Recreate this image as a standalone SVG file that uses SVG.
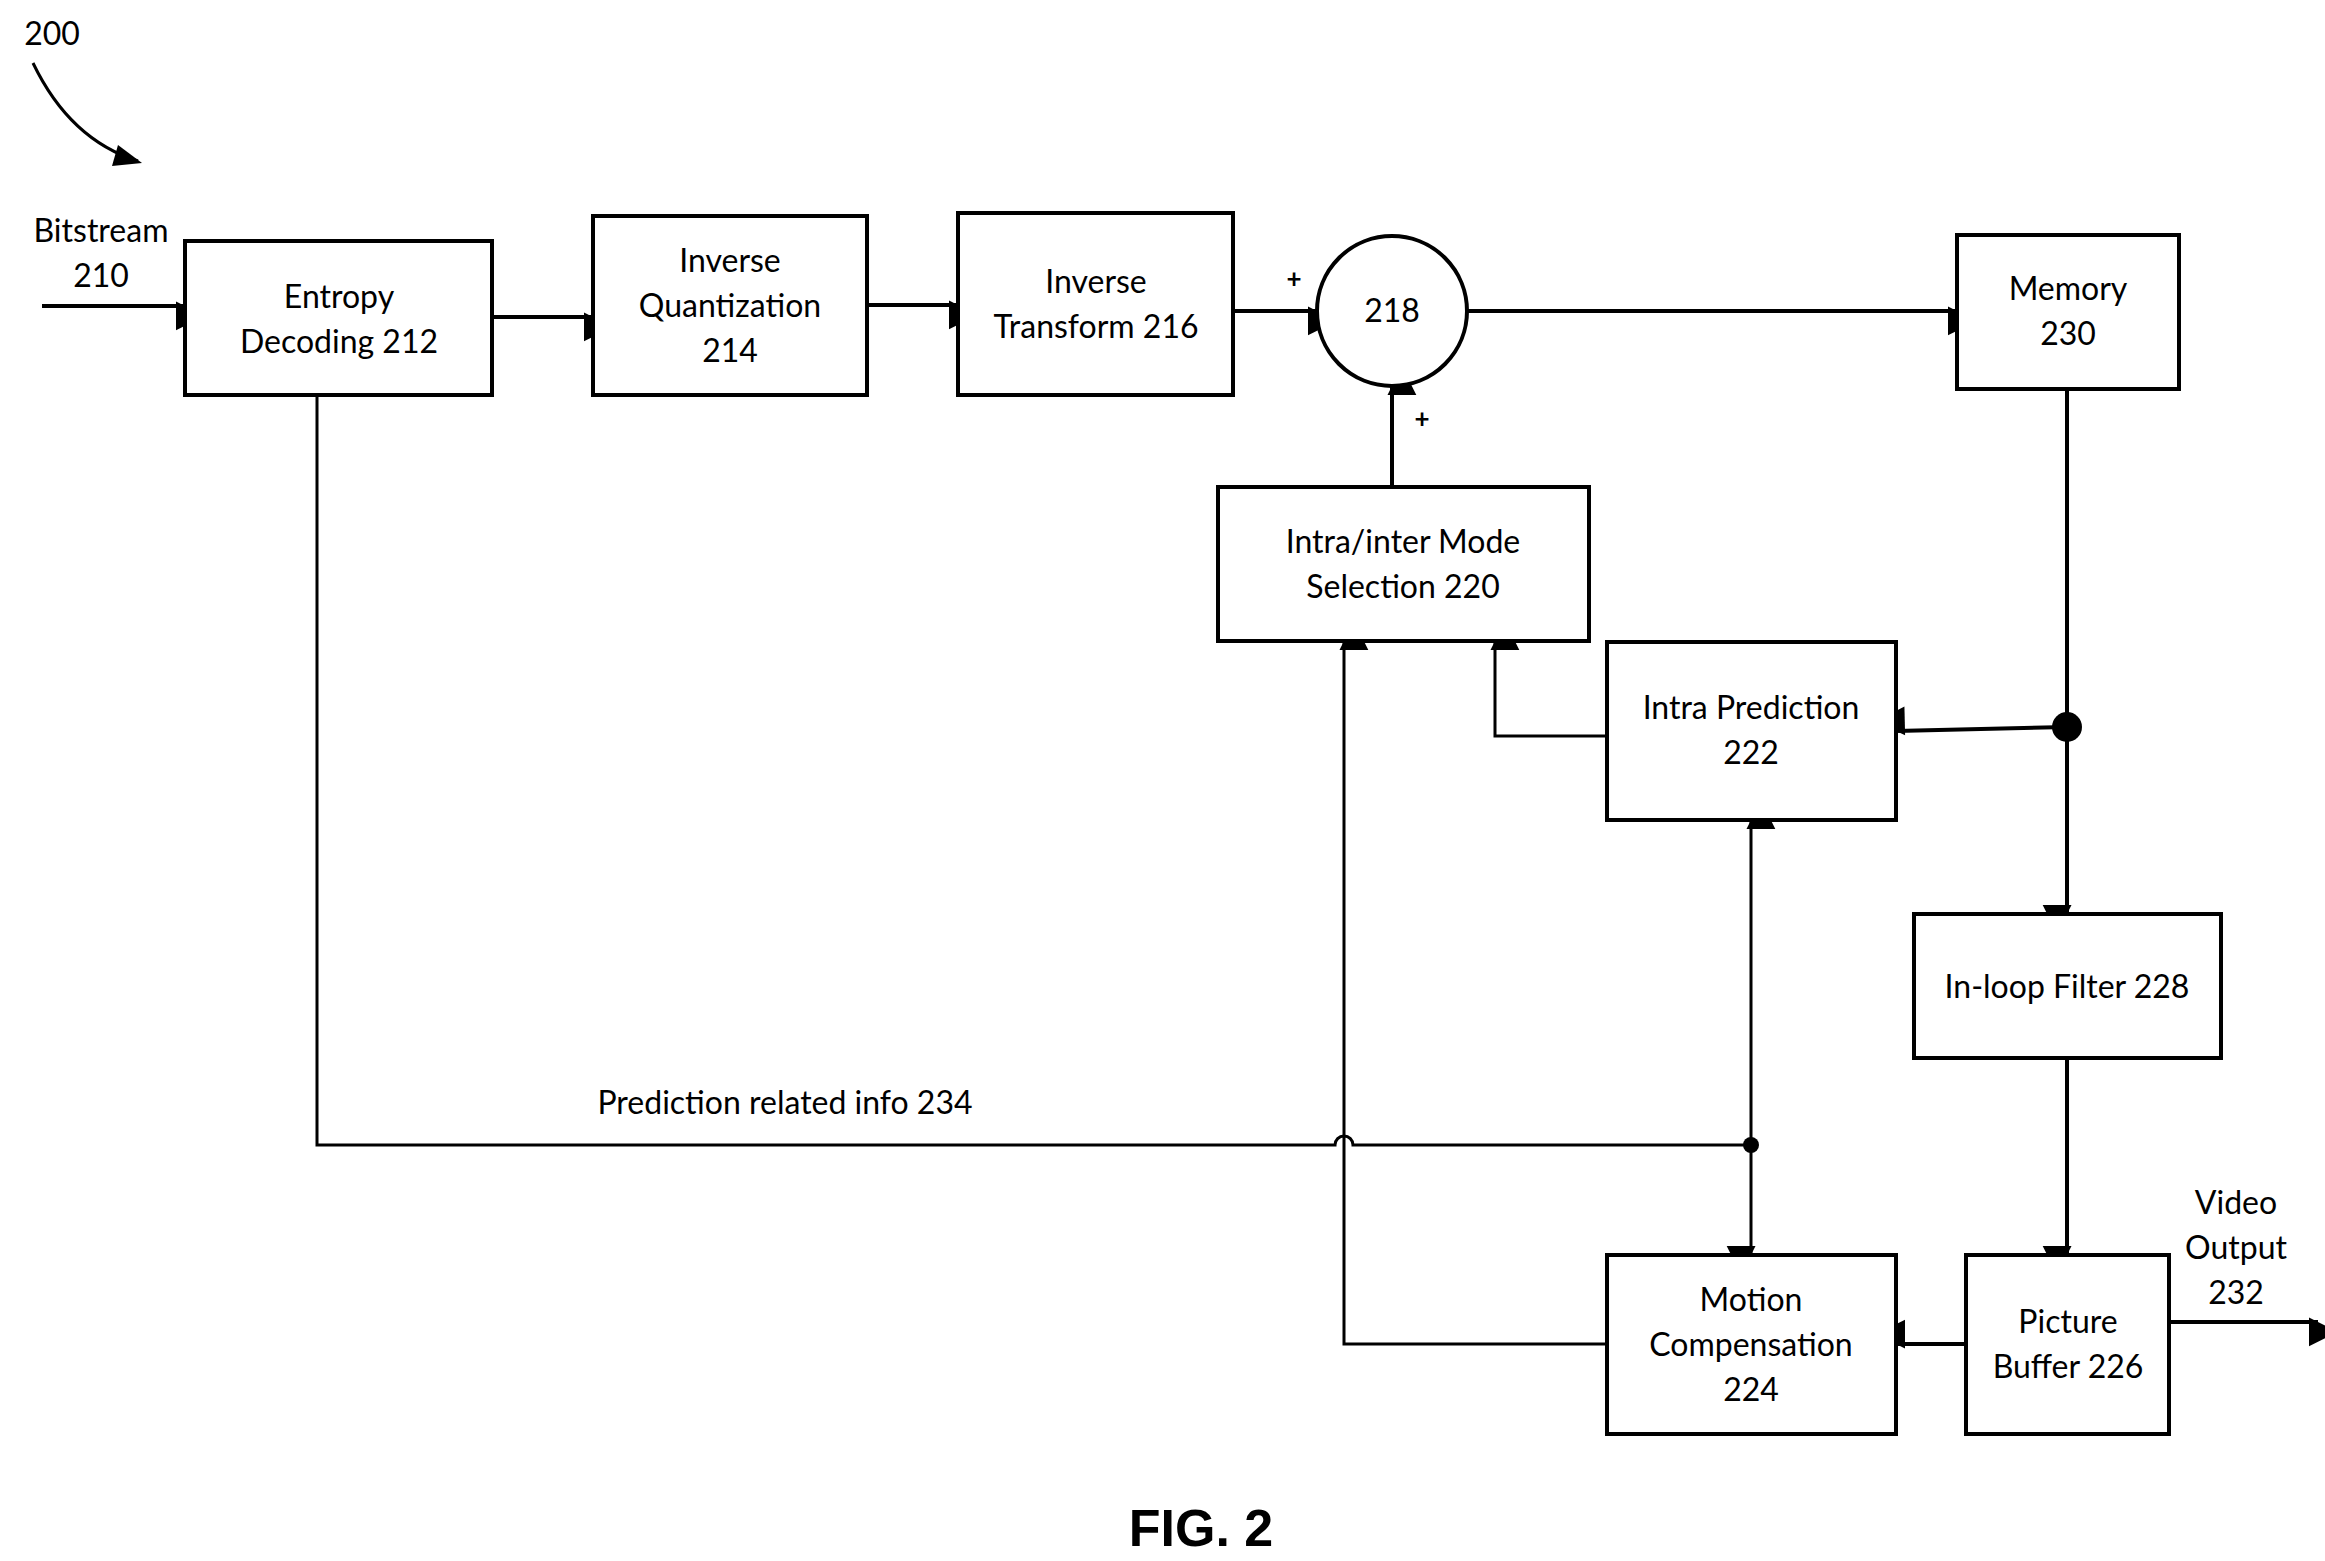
<svg xmlns="http://www.w3.org/2000/svg" width="2325" height="1561" viewBox="0 0 2325 1561">
<style>
.b{fill:#fff;stroke:#000;stroke-width:4}
.t{font-family:Lato,"Open Sans",sans-serif;font-size:32px;text-anchor:middle;fill:#000}
.c{fill:none;stroke:#000;stroke-width:4}
.c2{fill:none;stroke:#000;stroke-width:3}
</style>
<defs>
<marker id="a" viewBox="0 0 10 10" refX="10" refY="5" markerWidth="9" markerHeight="9" markerUnits="userSpaceOnUse" orient="auto" style="overflow:visible">
<path d="M0,0 L10,5 L0,10 Z" transform="scale(3.2)" fill="#000"/>
</marker>
</defs>
<rect width="2325" height="1561" fill="#fff"/>
<g id="connectors">
<path class="c" d="M42,306 H185" marker-end="url(#a)"/>
<path class="c" d="M492,317 H593" marker-end="url(#a)"/>
<path class="c" d="M867,305 H958" marker-end="url(#a)"/>
<path class="c" d="M1233,311 H1317" marker-end="url(#a)"/>
<path class="c" d="M1467,311 H1957" marker-end="url(#a)"/>
<path class="c" d="M1392,487 V386" marker-end="url(#a)"/>
<path class="c" d="M2067,389 V914" marker-end="url(#a)"/>
<path class="c" d="M2067,727 L1896,731" marker-end="url(#a)"/>
<path class="c2" d="M1607,736 H1495 V641" marker-end="url(#a)"/>
<path class="c" d="M2067,1058 V1255" marker-end="url(#a)"/>
<path class="c" d="M1966,1344 H1896" marker-end="url(#a)"/>
<path class="c" d="M2169,1322 H2318" marker-end="url(#a)"/>
<path class="c2" d="M1607,1344 H1344 V641" marker-end="url(#a)"/>
<path class="c2" d="M317,395 V1145 H1335 A9,9 0 0 1 1353,1145 H1751"/>
<path class="c2" d="M1751,1145 V820" marker-end="url(#a)"/>
<path class="c2" d="M1751,1145 V1255" marker-end="url(#a)"/>
<circle cx="2067" cy="727" r="15"/>
<circle cx="1751" cy="1145" r="8"/>
<path class="c2" d="M33,63 Q70,140 138,161"/>
<path d="M142,163 L118,145 L112,166 Z" fill="#000"/>
</g>
<g id="n212"><rect class="b" x="185" y="241" width="307" height="154"/><text class="t" x="339" y="308">Entropy</text><text class="t" x="339" y="353">Decoding 212</text></g>
<g id="n214"><rect class="b" x="593" y="216" width="274" height="179"/><text class="t" x="730" y="272">Inverse</text><text class="t" x="730" y="317">Quantization</text><text class="t" x="730" y="362">214</text></g>
<g id="n216"><rect class="b" x="958" y="213" width="275" height="182"/><text class="t" x="1096" y="293">Inverse</text><text class="t" x="1096" y="338">Transform 216</text></g>
<g id="n218"><circle class="b" cx="1392" cy="311" r="75"/><text class="t" x="1392" y="322">218</text></g>
<text class="t" x="1294" y="288" style="font-weight:bold;font-size:26px">+</text>
<text class="t" x="1422" y="428" style="font-weight:bold;font-size:26px">+</text>
<g id="n230"><rect class="b" x="1957" y="235" width="222" height="154"/><text class="t" x="2068" y="300">Memory</text><text class="t" x="2068" y="345">230</text></g>
<g id="n220"><rect class="b" x="1218" y="487" width="371" height="154"/><text class="t" x="1403" y="553">Intra/inter Mode</text><text class="t" x="1403" y="598">Selection 220</text></g>
<g id="n222"><rect class="b" x="1607" y="642" width="289" height="178"/><text class="t" x="1751" y="719">Intra Prediction</text><text class="t" x="1751" y="764">222</text></g>
<g id="n228"><rect class="b" x="1914" y="914" width="307" height="144"/><text class="t" x="2067" y="998">In-loop Filter 228</text></g>
<g id="n226"><rect class="b" x="1966" y="1255" width="203" height="179"/><text class="t" x="2068" y="1333">Picture</text><text class="t" x="2068" y="1378">Buffer 226</text></g>
<g id="n224"><rect class="b" x="1607" y="1255" width="289" height="179"/><text class="t" x="1751" y="1311">Motion</text><text class="t" x="1751" y="1356">Compensation</text><text class="t" x="1751" y="1401">224</text></g>
<text class="t" x="101" y="242">Bitstream</text><text class="t" x="101" y="287">210</text>
<text class="t" x="2236" y="1214">Video</text><text class="t" x="2236" y="1259">Output</text><text class="t" x="2236" y="1304">232</text>
<text class="t" x="785" y="1114">Prediction related info 234</text>
<text class="t" x="52" y="45">200</text>
<text x="1201" y="1546" style="font-family:'Liberation Sans',Arial,sans-serif;font-weight:bold;font-size:52px;text-anchor:middle">FIG. 2</text>
</svg>
